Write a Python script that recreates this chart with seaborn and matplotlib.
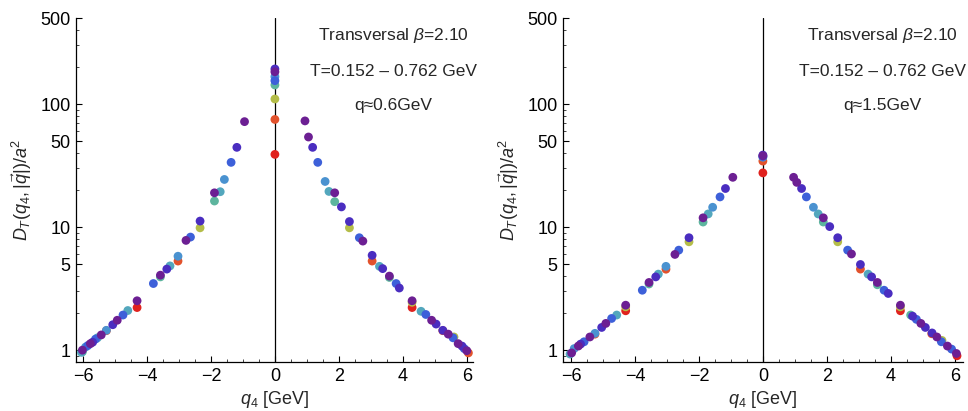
import matplotlib
matplotlib.use("Agg")
import matplotlib.pyplot as plt
import matplotlib.ticker as mticker
import seaborn as sns
import pandas as pd

sns.set_style("ticks")
plt.rcParams["font.family"] = ["Liberation Sans", "DejaVu Sans"]
plt.rcParams["mathtext.fontset"] = "custom"
plt.rcParams["mathtext.rm"] = "Liberation Sans"
plt.rcParams["mathtext.it"] = "Liberation Sans:italic"

# series (lattice Nt) and their colours, drawn red first, purple last
nt_order = [4, 5, 6, 8, 9, 10, 12, 16, 20]
nt_colors = ["#e0221e", "#e2522c", "#b4bd48", "#5db59e", "#53a7bd",
             "#4a92d0", "#3d60d9", "#4a2dc0", "#6c1f93"]

# left panel: q ~ 0.6 GeV
q4_a = [0, 0, 0, 0, 0, 0, 0, 0,
        -0.95, -1.19, -1.37, -1.58, -1.71, -1.89, -1.89, -2.34, -2.34, -2.64, -2.78,
        -3.03, -3.03, -3.28, -3.38, -3.58, -3.58, -3.80, -4.31, -4.31, -4.60, -4.75,
        -4.93, -5.07, -5.27, -5.27, -5.43, -5.55, -5.61, -5.70, -5.77, -5.85, -5.92,
        -6.02, -6.02, -6.05,
        0.94, 1.05, 1.18, 1.34, 1.57, 1.69, 1.87, 1.87, 2.08, 2.33, 2.33, 2.64, 2.75,
        3.04, 3.04, 3.27, 3.37, 3.58, 3.58, 3.79, 3.89, 4.29, 4.29, 4.29, 4.57, 4.72,
        4.90, 5.04, 5.25, 5.25, 5.42, 5.57, 5.60, 5.73, 5.85, 5.92, 6.00, 6.05]
d_a = [193, 183, 167, 155, 143, 110, 75, 39,
       72, 44.5, 33.6, 24.4, 19.4, 19.0, 16.3, 11.2, 9.87, 8.3, 7.8,
       5.8, 5.3, 4.84, 4.56, 4.07, 3.94, 3.48, 2.52, 2.22, 2.10, 1.93,
       1.75, 1.61, 1.44, 1.45, 1.33, 1.26, 1.23, 1.16, 1.13, 1.09, 1.06,
       0.97, 1.0, 0.96,
       73, 54, 44.5, 33.6, 23.5, 19.5, 19.0, 16.1, 14.6, 11.1, 9.87, 8.2, 7.7,
       5.9, 5.3, 4.8, 4.6, 4.0, 3.9, 3.48, 3.2, 2.52, 2.45, 2.22, 2.07, 1.95,
       1.75, 1.63, 1.44, 1.45, 1.35, 1.26, 1.28, 1.13, 1.08, 1.03, 0.99, 0.95]
nt_a = [16, 20, 10, 12, 8, 6, 5, 4,
        20, 16, 12, 10, 9, 20, 8, 16, 6, 12, 20,
        10, 5, 9, 16, 20, 8, 12, 20, 4, 9, 12,
        20, 16, 5, 10, 20, 9, 12, 16, 20, 12, 10,
        8, 20, 9,
        20, 20, 16, 12, 10, 9, 20, 8, 16, 16, 6, 12, 20,
        16, 5, 9, 16, 20, 8, 12, 16, 20, 6, 4, 9, 12,
        20, 16, 5, 16, 20, 12, 6, 20, 16, 12, 20, 5]

# right panel: q ~ 1.5 GeV
q4_b = [0, 0, 0, 0, 0, 0,
        -0.94, -1.17, -1.34, -1.57, -1.71, -1.87, -1.87, -2.31, -2.31, -2.63, -2.75,
        -3.03, -3.03, -3.27, -3.35, -3.56, -3.56, -3.77, -4.29, -4.29, -4.29, -4.57,
        -4.73, -4.91, -5.04, -5.25, -5.25, -5.41, -5.59, -5.70, -5.77, -5.90, -5.98,
        -6.03,
        0.96, 1.06, 1.21, 1.36, 1.58, 1.73, 1.89, 1.89, 2.09, 2.34, 2.34, 2.65, 2.77,
        3.05, 3.05, 3.29, 3.40, 3.58, 3.58, 3.79, 3.92, 4.30, 4.30, 4.30, 4.62, 4.68,
        4.80, 4.94, 5.08, 5.29, 5.28, 5.44, 5.58, 5.60, 5.77, 5.90, 6.05, 6.07]
d_b = [38.5, 38, 37.5, 37, 34.4, 27.6,
       25.4, 20.6, 17.6, 14.5, 12.8, 11.9, 11.0, 8.2, 7.6, 6.5, 6.0,
       4.8, 4.55, 4.15, 3.94, 3.55, 3.45, 3.07, 2.32, 2.25, 2.09, 1.93,
       1.81, 1.65, 1.53, 1.37, 1.35, 1.28, 1.17, 1.12, 1.08, 1.03, 0.95,
       0.93,
       25.4, 23.1, 20.6, 17.6, 14.5, 12.8, 11.9, 11.0, 10.1, 8.2, 7.6, 6.5, 6.05,
       4.97, 4.56, 4.15, 3.94, 3.55, 3.4, 3.07, 2.89, 2.32, 2.25, 2.09, 1.93, 1.89,
       1.78, 1.65, 1.53, 1.38, 1.36, 1.28, 1.17, 1.2, 1.08, 1.02, 0.94, 0.90]
nt_b = [16, 20, 12, 10, 5, 4,
        20, 16, 12, 10, 9, 20, 8, 16, 6, 12, 20,
        10, 5, 9, 16, 20, 8, 12, 20, 6, 4, 9,
        12, 20, 16, 10, 5, 20, 12, 16, 20, 10, 20,
        9,
        20, 20, 16, 12, 10, 9, 20, 8, 16, 16, 6, 12, 20,
        16, 5, 9, 16, 20, 8, 12, 16, 20, 6, 4, 8, 16,
        12, 20, 16, 16, 5, 20, 12, 6, 20, 12, 20, 4]

y_ticks = [1, 5, 10, 50, 100, 500]
panels = [
    (q4_a, d_a, nt_a, "q\u22480.6GeV", (-6.22, 6.19),
     [0.0785, 0.119, 0.410, 0.837]),
    (q4_b, d_b, nt_b, "q\u22481.5GeV", (-6.25, 6.25),
     [0.5816, 0.119, 0.413, 0.837]),
]

palette = dict(zip(nt_order, nt_colors))
fig = plt.figure(figsize=(9.68, 4.11), dpi=100)

for q4, d, nt, qtxt, xlim, rect in panels:
    ax = fig.add_axes(rect)
    df = pd.DataFrame({"q4": q4, "D": d, "Nt": nt})
    df["rank"] = df["Nt"].map({n: i for i, n in enumerate(nt_order)})
    df = df.sort_values("rank", kind="stable")
    sns.scatterplot(data=df, x="q4", y="D", hue="Nt", palette=palette,
                    legend=False, s=40, linewidth=0, alpha=1, ax=ax,
                    zorder=3)
    ax.set_yscale("log")
    ax.set_ylim(0.8, 500)
    ax.set_xlim(*xlim)
    ax.axvline(0, color="black", lw=0.9, zorder=2)
    ax.set_yticks(y_ticks)
    ax.set_yticklabels([str(v) for v in y_ticks])
    ax.yaxis.set_minor_locator(mticker.LogLocator(base=10, subs=range(2, 10)))
    ax.yaxis.set_minor_formatter(mticker.NullFormatter())
    ax.set_xticks([-6, -4, -2, 0, 2, 4, 6])
    ax.set_xticklabels(["\u22126", "\u22124", "\u22122", "0", "2", "4", "6"])
    ax.xaxis.set_minor_locator(mticker.MultipleLocator(0.5))
    ax.tick_params(which="major", direction="in", length=4, width=0.8,
                   labelsize=13, colors="black", pad=4)
    ax.tick_params(which="minor", direction="in", length=2.2, width=0.6)
    sns.despine(ax=ax)
    for sp in ("left", "bottom"):
        ax.spines[sp].set_linewidth(0.9)
        ax.spines[sp].set_color("black")
    ax.set_xlabel("$q_4$ [GeV]", fontsize=13, labelpad=3)
    ax.set_ylabel(r"$D_T(q_4,|\vec{q}|)/a^2$", fontsize=13)
    ax.yaxis.set_label_coords(-0.105, 0.5)
    ax.text(0.80, 0.948, r"Transversal $\beta$=2.10", transform=ax.transAxes,
            ha="center", va="center", fontsize=12.5)
    ax.text(0.80, 0.846, "T=0.152 \u2013 0.762 GeV", transform=ax.transAxes,
            ha="center", va="center", fontsize=12.5)
    ax.text(0.80, 0.747, qtxt, transform=ax.transAxes,
            ha="center", va="center", fontsize=12.5)

fig.savefig("out.png", dpi=100)
